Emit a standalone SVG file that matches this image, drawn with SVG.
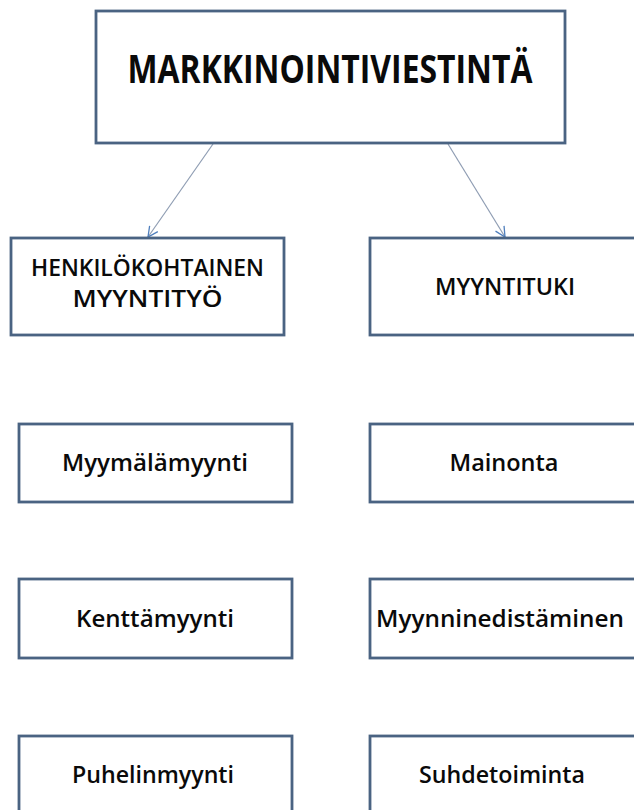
<svg xmlns="http://www.w3.org/2000/svg" width="634" height="810" viewBox="0 0 634 810">
  <style>
    .box { fill: #ffffff; stroke: #4a6382; stroke-width: 2.8; }
    .title { font-family: "Open Sans", "Liberation Sans", sans-serif; font-weight: bold; font-size: 40px; fill: #0a0a0a; text-anchor: middle; }
    .lbl { font-family: "Open Sans", "Liberation Sans", sans-serif; font-weight: 600; font-size: 23px; fill: #0a0a0a; text-anchor: middle; }
    .conn { stroke: #8f9db3; stroke-width: 1.2; fill: none; }
  </style>
  <defs>
    <marker id="head" viewBox="0 0 12 12" refX="11" refY="6" markerWidth="12" markerHeight="12" markerUnits="userSpaceOnUse" orient="auto">
      <path d="M1,1 L11,6 L1,11" fill="none" stroke="#4f7fbd" stroke-width="1.3"/>
    </marker>
  </defs>
  <rect x="0" y="0" width="634" height="810" fill="#ffffff"/>

  <g id="connectors">
    <line class="conn" x1="213" y1="144" x2="148" y2="237" marker-end="url(#head)"/>
    <line class="conn" x1="448" y1="144" x2="505" y2="237" marker-end="url(#head)"/>
  </g>

  <g id="markkinointiviestinta">
    <rect class="box" x="96" y="11" width="469" height="132"/>
    <text class="title" x="330" y="83" textLength="405" lengthAdjust="spacingAndGlyphs">MARKKINOINTIVIESTINTÄ</text>
  </g>

  <g id="henkilokohtainen-myyntityo">
    <rect class="box" x="11" y="238" width="273" height="97"/>
    <text class="lbl" x="147.5" y="276" textLength="233" lengthAdjust="spacingAndGlyphs">HENKILÖKOHTAINEN</text>
    <text class="lbl" x="147.5" y="307" textLength="150" lengthAdjust="spacingAndGlyphs">MYYNTITYÖ</text>
  </g>

  <g id="myyntituki">
    <rect class="box" x="370" y="238" width="274" height="97"/>
    <text class="lbl" x="505" y="295" textLength="140" lengthAdjust="spacingAndGlyphs">MYYNTITUKI</text>
  </g>

  <g id="myymalamyynti">
    <rect class="box" x="19" y="424" width="273" height="78"/>
    <text class="lbl" x="155" y="471" textLength="186" lengthAdjust="spacingAndGlyphs">Myymälämyynti</text>
  </g>

  <g id="mainonta">
    <rect class="box" x="370" y="424" width="274" height="78"/>
    <text class="lbl" x="504" y="471" textLength="109" lengthAdjust="spacingAndGlyphs">Mainonta</text>
  </g>

  <g id="kenttamyynti">
    <rect class="box" x="19" y="579" width="273" height="79"/>
    <text class="lbl" x="155" y="627" textLength="158" lengthAdjust="spacingAndGlyphs">Kenttämyynti</text>
  </g>

  <g id="myynninedistaminen">
    <rect class="box" x="370" y="579" width="274" height="79"/>
    <text class="lbl" x="500" y="627" textLength="248" lengthAdjust="spacingAndGlyphs">Myynninedistäminen</text>
  </g>

  <g id="puhelinmyynti">
    <rect class="box" x="19" y="736" width="273" height="80"/>
    <text class="lbl" x="153" y="783" textLength="162" lengthAdjust="spacingAndGlyphs">Puhelinmyynti</text>
  </g>

  <g id="suhdetoiminta">
    <rect class="box" x="370" y="736" width="274" height="80"/>
    <text class="lbl" x="502" y="783" textLength="166" lengthAdjust="spacingAndGlyphs">Suhdetoiminta</text>
  </g>
</svg>
